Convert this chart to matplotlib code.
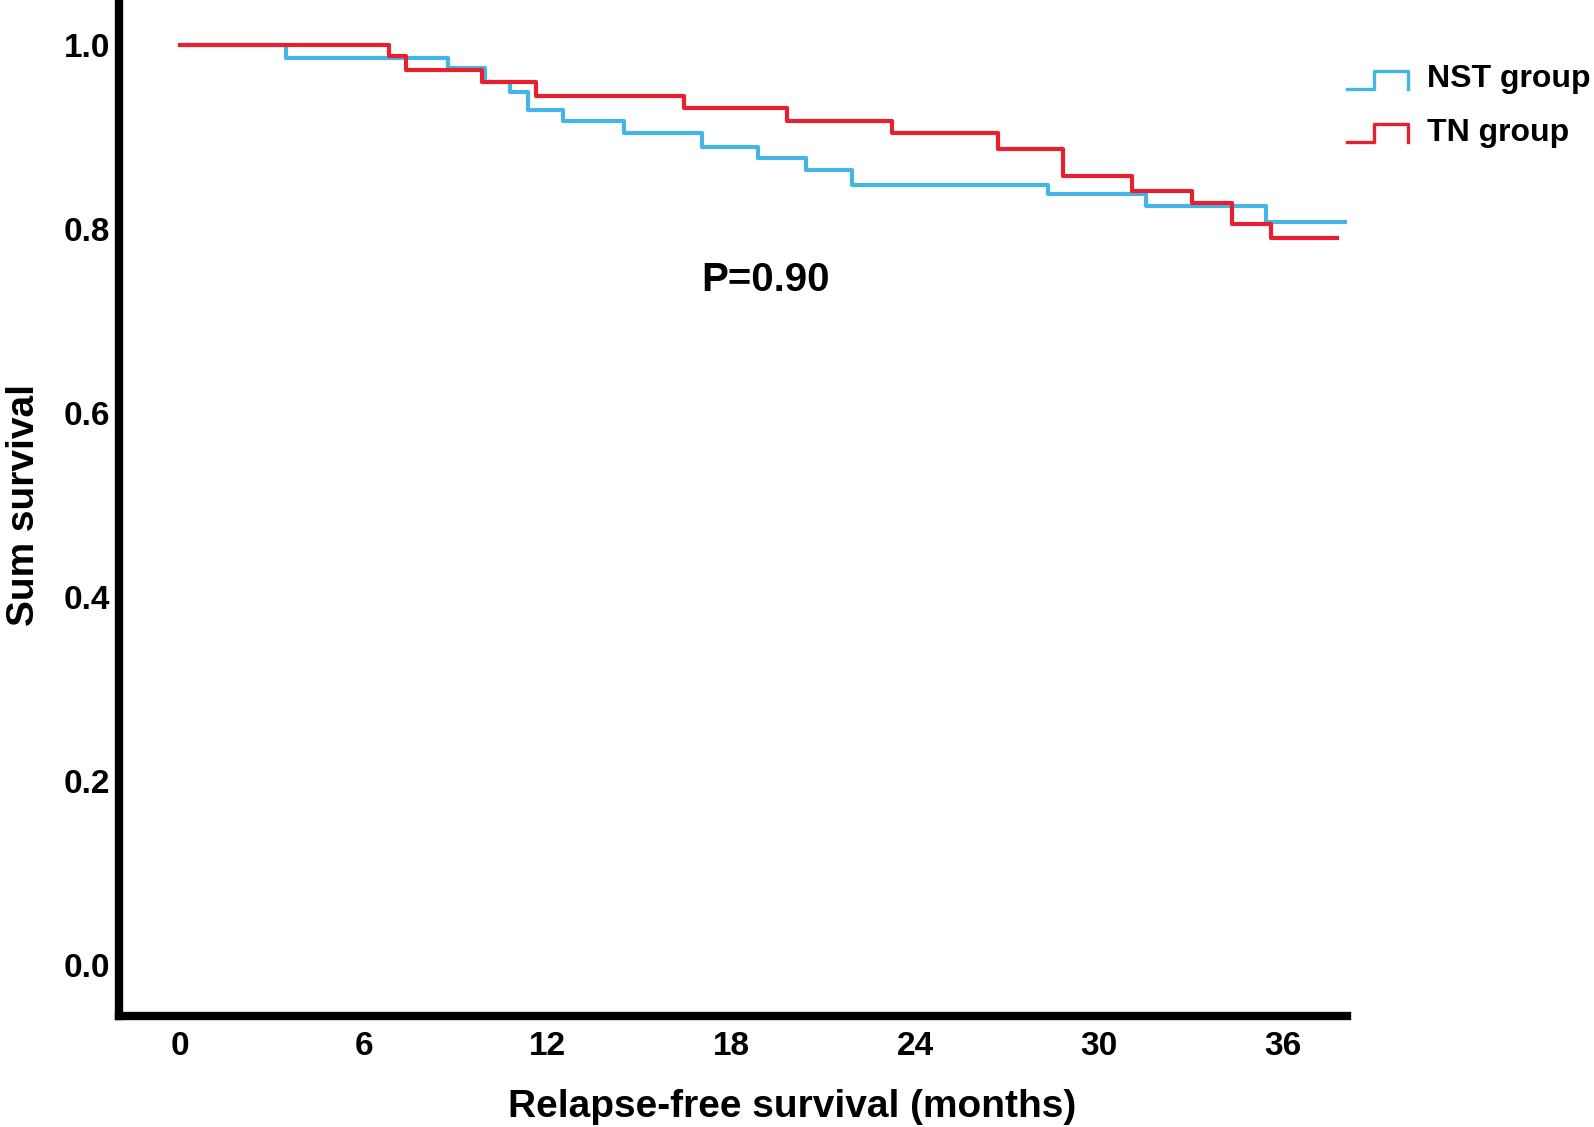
import numpy as np
import matplotlib
matplotlib.use('Agg')
import matplotlib.pyplot as plt
import matplotlib as mpl
from matplotlib.legend_handler import HandlerBase
from matplotlib.lines import Line2D

mpl.rcParams.update({
    'font.family': ['Liberation Sans', 'DejaVu Sans'],
    'font.weight': 'bold',
    'axes.labelweight': 'bold',
})

# Kaplan-Meier steps (months, survival)
nst_time = [0, 3.46, 8.75, 9.95, 10.75, 11.35, 12.5, 14.49, 17.04, 18.86, 20.43, 21.93, 28.33, 31.53, 35.44, 38.09]
nst_surv = [1.0, 0.986, 0.975, 0.960, 0.949, 0.930, 0.917, 0.905, 0.889, 0.877, 0.864, 0.848, 0.838, 0.825, 0.808, 0.808]

tn_time = [0, 6.82, 7.38, 9.86, 11.62, 16.45, 19.81, 23.24, 26.70, 28.82, 31.07, 33.03, 34.33, 35.61, 37.76]
tn_surv = [1.0, 0.988, 0.973, 0.960, 0.945, 0.932, 0.918, 0.904, 0.887, 0.858, 0.841, 0.828, 0.806, 0.790, 0.790]

x_ticks = [0, 6, 12, 18, 24, 30, 36]
y_ticks = [0.0, 0.2, 0.4, 0.6, 0.8, 1.0]

BLUE = '#45b5e3'
RED = '#e6202e'


class StepHandler(HandlerBase):
    # legend key drawn as a small step like the curve itself
    def create_artists(self, legend, orig_handle, xdescent, ydescent,
                       width, height, fontsize, trans):
        fx = np.array([0.0, 0.45, 0.45, 1.0, 1.0])
        fy = np.array([-0.1, -0.1, 0.75, 0.75, -0.1])
        ln = Line2D(fx * width - xdescent, fy * height - ydescent,
                    color=orig_handle.get_color(),
                    linewidth=orig_handle.get_linewidth() * 0.8)
        ln.set_transform(trans)
        return [ln]


fig = plt.figure(figsize=(15.94, 11.27), dpi=100)
ax = fig.add_axes([0.0747, 0.0985, 0.7704, 0.9015])

l_nst, = ax.step(nst_time, nst_surv, where='post', color=BLUE, lw=3, label='NST group', zorder=3)
l_tn, = ax.step(tn_time, tn_surv, where='post', color=RED, lw=3, label='TN group', zorder=3)

ax.set_xlim(-2.0, 38.1)
ax.set_ylim(-0.055, 1.049)
ax.set_xticks(x_ticks)
ax.set_xticklabels([str(t) for t in x_ticks])
ax.set_yticks(y_ticks)
ax.set_yticklabels([f'{t:.1f}' for t in y_ticks])
ax.tick_params(length=0, labelsize=24)
ax.tick_params(axis='y', pad=6.5)
ax.tick_params(axis='x', pad=11)

for s in ['top', 'right']:
    ax.spines[s].set_visible(False)
for s in ['left', 'bottom']:
    ax.spines[s].set_linewidth(6)
    ax.spines[s].set_capstyle('projecting')

ax.set_xlabel('Relapse-free survival (months)', fontsize=28, va='center')
ax.xaxis.set_label_coords(0.548, -0.0895)
ax.set_ylabel('Sum survival', fontsize=28, va='center')
ax.yaxis.set_label_coords(-0.0773, 0.503)

ax.text(19.1, 0.745, 'P=0.90', fontsize=29, fontweight='bold', ha='center', va='center')

leg = ax.legend(handles=[l_nst, l_tn], handler_map={Line2D: StepHandler()},
                loc='upper left', bbox_to_anchor=(0.845, 0.943),
                bbox_transform=fig.transFigure, frameon=False,
                fontsize=23, handlelength=1.9, handleheight=0.65,
                handletextpad=0.62, labelspacing=0.74,
                borderpad=0, borderaxespad=0)

fig.savefig('out.png', dpi=100)
